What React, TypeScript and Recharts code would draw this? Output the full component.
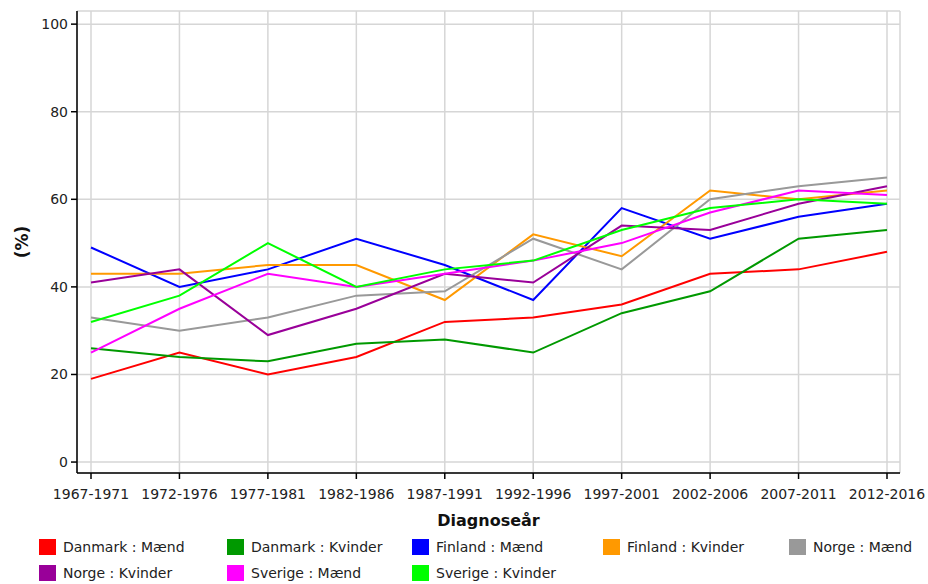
import React from "react";
import { LineChart, Line, XAxis, YAxis, CartesianGrid, Legend } from "recharts";

if (typeof document !== "undefined") document.body.style.margin = "0";

const periods = [
  "1967-1971", "1972-1976", "1977-1981", "1982-1986", "1987-1991",
  "1992-1996", "1997-2001", "2002-2006", "2007-2011", "2012-2016",
];

const danmarkMaend = [19, 25, 20, 24, 32, 33, 36, 43, 44, 48];
const danmarkKvinder = [26, 24, 23, 27, 28, 25, 34, 39, 51, 53];
const finlandMaend = [49, 40, 44, 51, 45, 37, 58, 51, 56, 59];
const finlandKvinder = [43, 43, 45, 45, 37, 52, 47, 62, 60, 62];
const norgeMaend = [33, 30, 33, 38, 39, 51, 44, 60, 63, 65];
const norgeKvinder = [41, 44, 29, 35, 43, 41, 54, 53, 59, 63];
const sverigeMaend = [25, 35, 43, 40, 43, 46, 50, 57, 62, 61];
const sverigeKvinder = [32, 38, 50, 40, 44, 46, 53, 58, 60, 59];

const yTicks = [0, 20, 40, 60, 80, 100];

const series = [
  { key: "dkM", name: "Danmark : Mænd", color: "#ff0000", values: danmarkMaend },
  { key: "dkK", name: "Danmark : Kvinder", color: "#009900", values: danmarkKvinder },
  { key: "fiM", name: "Finland : Mænd", color: "#0000ff", values: finlandMaend },
  { key: "fiK", name: "Finland : Kvinder", color: "#ff9900", values: finlandKvinder },
  { key: "noM", name: "Norge : Mænd", color: "#999999", values: norgeMaend },
  { key: "noK", name: "Norge : Kvinder", color: "#990099", values: norgeKvinder },
  { key: "seM", name: "Sverige : Mænd", color: "#ff00ff", values: sverigeMaend },
  { key: "seK", name: "Sverige : Kvinder", color: "#00ff00", values: sverigeKvinder },
];

const data = periods.map((p, i) => {
  const row: any = { period: p };
  series.forEach((s) => (row[s.key] = s.values[i]));
  return row;
});

const font = "'DejaVu Sans', Verdana, sans-serif";

// legend drawn by hand: five fixed-width columns like the original
function LegendBox() {
  return (
    <div
      style={{
        display: "grid",
        gridTemplateColumns: "188px 185px 191px 186px 140px",
        rowGap: 8,
        paddingLeft: 39,
        fontFamily: font,
        fontSize: 14,
        color: "#222",
      }}
    >
      {series.map((s) => (
        <div key={s.key} style={{ display: "flex", alignItems: "center", height: 18 }}>
          <span style={{ width: 17, height: 16, background: s.color, marginRight: 7, display: "inline-block" }} />
          <span>{s.name}</span>
        </div>
      ))}
    </div>
  );
}

export default function App() {
  return (
    <div style={{ width: 928, height: 584, background: "#fff" }}>
      <LineChart width={928} height={584} data={data} margin={{ top: 11, right: 28, left: 0, bottom: 37 }}>
        <CartesianGrid stroke="#d6d6d6" strokeWidth={1.5} />
        <XAxis
          dataKey="period"
          padding={{ left: 14, right: 13 }}
          height={30}
          interval={0}
          tick={{ fontFamily: font, fontSize: 14, fill: "#222" }}
          tickSize={6}
          tickMargin={10}
          axisLine={{ stroke: "#000", strokeWidth: 1.5 }}
          tickLine={{ stroke: "#000", strokeWidth: 1.5 }}
          label={{
            value: "Diagnoseår",
            position: "insideBottom",
            offset: -23,
            style: { fontFamily: font, fontSize: 16, fontWeight: "bold", fill: "#111" },
          }}
        />
        <XAxis xAxisId="top" orientation="top" height={0} tick={false} tickLine={false} axisLine={{ stroke: "#000", strokeWidth: 1.5 }} />
        <YAxis
          width={77}
          domain={[-2.5, 103]}
          ticks={yTicks}
          allowDataOverflow
          tick={{ fontFamily: font, fontSize: 14, fill: "#222" }}
          tickSize={6}
          tickMargin={3}
          axisLine={{ stroke: "#000", strokeWidth: 1.5 }}
          tickLine={{ stroke: "#000", strokeWidth: 1.5 }}
          label={{
            value: "(%)",
            angle: -90,
            position: "insideLeft",
            offset: 22,
            style: { fontFamily: font, fontSize: 17, fontWeight: "bold", fill: "#111", textAnchor: "middle" },
          }}
        />
        <YAxis yAxisId="right" orientation="right" width={0} tick={false} tickLine={false} axisLine={{ stroke: "#000", strokeWidth: 1.5 }} />
        {series.map((s) => (
          <Line
            key={s.key}
            dataKey={s.key}
            name={s.name}
            stroke={s.color}
            strokeWidth={2}
            dot={false}
            type="linear"
            isAnimationActive={false}
          />
        ))}
        <Legend
          content={() => <LegendBox />}
          verticalAlign="bottom"
          wrapperStyle={{ left: 0, width: 928, top: 538 }}
        />
      </LineChart>
    </div>
  );
}
